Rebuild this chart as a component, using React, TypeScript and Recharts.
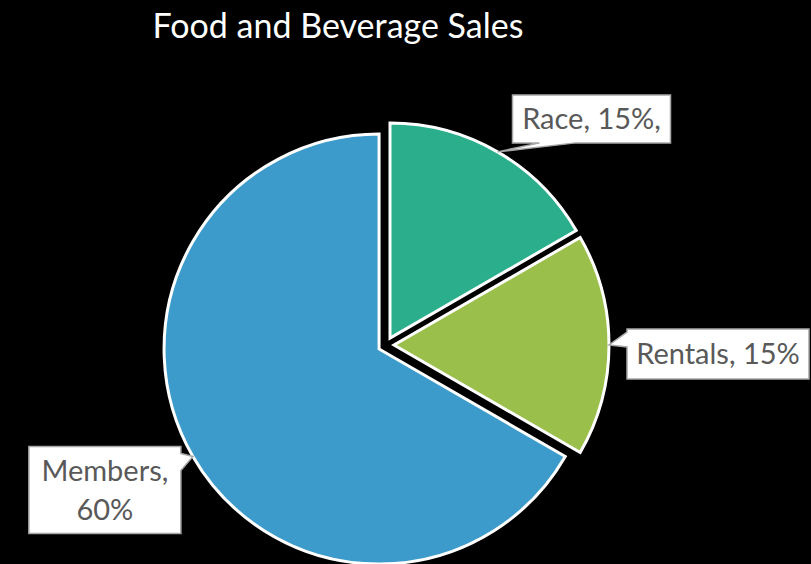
import React from 'react';
import { PieChart, Pie, Cell } from 'recharts';

const categories = ['Race', 'Rentals', 'Members'];
const shares = [15, 15, 60];
const labelLines = [['Race, 15%,'], ['Rentals, 15%'], ['Members,', '60%']];
const colors = ['#2aae8c', '#9abf4b', '#3d9bcb'];

const chartData = categories.map((name, i) => ({ name, value: shares[i] }));

// callout box placement relative to the pointer tip (outer edge at mid angle)
const callouts = [
  { dx: 15, dy: -57, w: 158, h: 48, side: 'bottom', b0: 27, b1: 63 },
  { dx: 18, dy: -16, w: 182, h: 50, side: 'left', b0: 3, b1: 18 },
  { dx: -164, dy: -10, w: 152, h: 87, side: 'right', b0: 7, b1: 24 },
];

const CX = 381;
const CY = 340;
const R = 215;
const EXPLODE = 8;
const RAD = Math.PI / 180;
const FONT = 'Lato, "Liberation Sans", sans-serif';

const total = shares.reduce((a, b) => a + b, 0);
const midAngles = shares.map((v, i) => {
  const before = shares.slice(0, i).reduce((a, b) => a + b, 0);
  return 90 - ((before + v / 2) / total) * 360;
});

const calloutPath = (tx: number, ty: number, c: any) => {
  const x0 = tx + c.dx;
  const y0 = ty + c.dy;
  const x1 = x0 + c.w;
  const y1 = y0 + c.h;
  if (c.side === 'bottom') {
    return `M${x0},${y0} L${x1},${y0} L${x1},${y1} L${x0 + c.b1},${y1} L${tx},${ty} L${x0 + c.b0},${y1} L${x0},${y1} Z`;
  }
  if (c.side === 'left') {
    return `M${x0},${y0} L${x1},${y0} L${x1},${y1} L${x0},${y1} L${x0},${y0 + c.b1} L${tx},${ty} L${x0},${y0 + c.b0} Z`;
  }
  return `M${x0},${y0} L${x1},${y0} L${x1},${y0 + c.b0} L${tx},${ty} L${x1},${y0 + c.b1} L${x1},${y1} L${x0},${y1} Z`;
};

const renderCallout = (props: any, k: number) => {
  if (props.index !== k) return null;
  const tx = props.cx + props.outerRadius * Math.cos(-props.midAngle * RAD);
  const ty = props.cy + props.outerRadius * Math.sin(-props.midAngle * RAD);
  const c = callouts[k];
  const lines = labelLines[k];
  const lh = 39;
  const boxCx = tx + c.dx + c.w / 2;
  const boxCy = ty + c.dy + c.h / 2;
  const firstBase = boxCy + 10 - ((lines.length - 1) * lh) / 2;
  return (
    <g key={`callout-${k}`}>
      <path d={calloutPath(tx, ty, c)} fill="#ffffff" stroke="#a6a6a6" strokeWidth={1.5} />
      {lines.map((line, j) => (
        <text
          key={j}
          x={boxCx}
          y={firstBase + j * lh}
          textAnchor="middle"
          fill="#595959"
          fontSize={29}
          fontFamily={FONT}
        >
          {line}
        </text>
      ))}
    </g>
  );
};

const App: React.FC = () => {
  return (
    <div style={{ position: 'relative', width: 811, height: 564, background: '#000', overflow: 'hidden' }}>
      <style>{'body{margin:0;background:#000;}'}</style>
      <div
        style={{
          position: 'absolute',
          left: 38,
          top: 6,
          width: 600,
          textAlign: 'center',
          color: '#ffffff',
          fontFamily: FONT,
          fontSize: 34,
          lineHeight: '38px',
        }}
      >
        Food and Beverage Sales
      </div>
      <PieChart width={811} height={564}>
        {categories.map((cat, k) => (
          <Pie
            key={cat}
            data={chartData}
            dataKey="value"
            nameKey="name"
            cx={CX + EXPLODE * Math.cos(midAngles[k] * RAD)}
            cy={CY - EXPLODE * Math.sin(midAngles[k] * RAD)}
            outerRadius={R}
            startAngle={90}
            endAngle={-270}
            stroke="#ffffff"
            strokeWidth={3}
            labelLine={false}
            label={(props: any) => renderCallout(props, k)}
            isAnimationActive={false}
          >
            {chartData.map((entry, i) => (
              <Cell
                key={entry.name}
                fill={i === k ? colors[i] : 'none'}
                stroke={i === k ? '#ffffff' : 'none'}
              />
            ))}
          </Pie>
        ))}
      </PieChart>
    </div>
  );
};

export default App;
